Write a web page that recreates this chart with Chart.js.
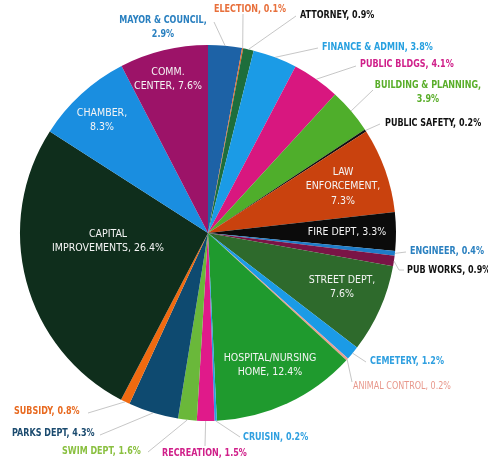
<!DOCTYPE html>
<html>
<head>
<meta charset="utf-8">
<script src="https://cdn.jsdelivr.net/npm/chart.js@4.4.1/dist/chart.umd.min.js"></script>
<style>
  html, body { margin: 0; padding: 0; background: #fff; }
  #wrap { width: 488px; height: 460px; }
</style>
</head>
<body>
<div id="wrap"><canvas id="myChart" width="488" height="460"></canvas></div>
<script>
// Budget shares by department, clockwise from 12 o'clock
const departments = [
  'MAYOR & COUNCIL', 'ELECTION', 'ATTORNEY', 'FINANCE & ADMIN', 'PUBLIC BLDGS',
  'BUILDING & PLANNING', 'PUBLIC SAFETY', 'LAW ENFORCEMENT', 'FIRE DEPT', 'ENGINEER',
  'PUB WORKS', 'STREET DEPT', 'CEMETERY', 'ANIMAL CONTROL', 'HOSPITAL/NURSING HOME',
  'CRUISIN', 'RECREATION', 'SWIM DEPT', 'PARKS DEPT', 'SUBSIDY',
  'CAPITAL IMPROVEMENTS', 'CHAMBER', 'COMM. CENTER'
];
const shares = [
  2.9, 0.1, 0.9, 3.8, 4.1,
  3.9, 0.2, 7.3, 3.3, 0.4,
  0.9, 7.6, 1.2, 0.2, 12.4,
  0.2, 1.5, 1.6, 4.3, 0.8,
  26.4, 8.3, 7.6
];

const sliceColors = [
  '#1d62a6', '#e8652a', '#1d6e3c', '#1b9be6', '#d8177f',
  '#4fae2b', '#111111', '#c9420e', '#0b0b0b', '#1e7cc8',
  '#7a1446', '#2e6a2c', '#1b9be6', '#eaa090', '#1f9a2e',
  '#27a0e0', '#e01a8a', '#6ab83a', '#0e4a70', '#f06a10',
  '#0f2e1c', '#1a8ee0', '#9c1368'
];

// label placement: inside labels (white) or outside labels with leader lines
const labelLayout = {
  0:  { words: [3, 1], x: 163, y: 20, align: 'center', color: '#2a80c0', path: [[214, 22]] },
  1:  { words: [2], x: 250, y: 9, align: 'center', color: '#e8703c', path: [[243, 14]] },
  2:  { words: [2], x: 300, y: 15, align: 'left', color: '#111', path: [[296, 16]] },
  3:  { words: [4], x: 322, y: 47, align: 'left', color: '#27a0e0', path: [[318, 48]] },
  4:  { words: [3], x: 360, y: 64, align: 'left', color: '#d0208a', path: [[356, 66]] },
  5:  { words: [3, 1], x: 428, y: 85, align: 'center', color: '#5aae2a', path: [[373, 90]] },
  6:  { words: [3], x: 385, y: 123, align: 'left', color: '#111', path: [[380, 124]] },
  7:  { words: [1, 1, 1], x: 343, y: 172, align: 'center', inside: true },
  8:  { words: [3], x: 347, y: 232, align: 'center', inside: true },
  9:  { words: [2], x: 410, y: 251, align: 'left', color: '#2a80c0', path: [[406, 252]] },
  10: { words: [3], x: 407, y: 270, align: 'left', color: '#111', path: [[399, 270], [404, 270]] },
  11: { words: [2, 1], x: 342, y: 280, align: 'center', inside: true },
  12: { words: [2], x: 370, y: 361, align: 'left', color: '#30a0e0', path: [[366, 362]] },
  13: { words: [3], x: 353, y: 386, align: 'left', color: '#e8988c', weight: 'normal', path: [[352, 382]] },
  14: { words: [1, 2], x: 270, y: 358, align: 'center', inside: true },
  15: { words: [2], x: 243, y: 437, align: 'left', color: '#30a0e0', path: [[240, 437]] },
  16: { words: [2], x: 162, y: 453, align: 'left', color: '#d0208a', path: [[205, 446]] },
  17: { words: [3], x: 62, y: 451, align: 'left', color: '#8ac040', path: [[148, 452]] },
  18: { words: [3], x: 12, y: 433, align: 'left', color: '#1a4a6e', path: [[100, 435]] },
  19: { words: [2], x: 14, y: 411, align: 'left', color: '#e86a20', path: [[88, 413]] },
  20: { words: [1, 2], x: 108, y: 234, align: 'center', inside: true },
  21: { words: [1, 1], x: 102, y: 113, align: 'center', inside: true },
  22: { words: [1, 2], x: 168, y: 72, align: 'center', inside: true }
};

const FONT_FAMILY = '"Liberation Sans Narrow", "DejaVu Sans Condensed", "Roboto", sans-serif';
const OUTSIDE_SQUEEZE = 0.85;   // horizontal squeeze to mimic a condensed bold face

function splitLines(text, counts) {
  const words = text.split(' ');
  const lines = [];
  let k = 0;
  counts.forEach(function(n) {
    lines.push(words.slice(k, k + n).join(' '));
    k += n;
  });
  if (k < words.length) lines[lines.length - 1] += ' ' + words.slice(k).join(' ');
  return lines;
}

const sliceLabels = {
  id: 'sliceLabels',
  afterDraw: function(chart) {
    const ctx = chart.ctx;
    const meta = chart.getDatasetMeta(0);
    ctx.save();
    meta.data.forEach(function(arc, i) {
      const lay = labelLayout[i];
      if (!lay) return;
      const p = arc.getProps(['x', 'y', 'startAngle', 'endAngle', 'outerRadius'], true);
      const mid = (p.startAngle + p.endAngle) / 2;
      const text = departments[i] + ', ' + shares[i].toFixed(1) + '%';
      const lines = splitLines(text, lay.words);

      if (!lay.inside) {
        ctx.strokeStyle = '#b8b8b8';
        ctx.lineWidth = 0.8;
        ctx.beginPath();
        ctx.moveTo(p.x + Math.cos(mid) * p.outerRadius, p.y + Math.sin(mid) * p.outerRadius);
        lay.path.forEach(function(pt) { ctx.lineTo(pt[0], pt[1]); });
        ctx.stroke();
      }

      ctx.textAlign = lay.align;
      ctx.textBaseline = 'middle';
      let squeeze = 1;
      if (lay.inside) {
        ctx.fillStyle = '#f4f4f4';
        ctx.font = 'normal 10.5px ' + FONT_FAMILY;
      } else {
        ctx.fillStyle = lay.color;
        ctx.font = (lay.weight || 'bold') + ' 10.5px ' + FONT_FAMILY;
        squeeze = OUTSIDE_SQUEEZE;
      }
      const lh = lay.inside ? 14.5 : 14;
      lines.forEach(function(line, j) {
        ctx.save();
        ctx.translate(lay.x, lay.y + j * lh);
        ctx.scale(squeeze, 1);
        ctx.fillText(line, 0, 0);
        ctx.restore();
      });
    });
    ctx.restore();
  }
};

const config = {
  type: 'pie',
  data: {
    labels: departments,
    datasets: [{
      data: shares,
      backgroundColor: sliceColors,
      borderWidth: 0
    }]
  },
  options: {
    responsive: false,
    animation: false,
    layout: { padding: { left: 20, top: 45, right: 92, bottom: 39 } },
    plugins: {
      legend: { display: false },
      tooltip: { enabled: false }
    }
  },
  plugins: [sliceLabels]
};

window.onload = function() {
  const ctx = document.getElementById('myChart').getContext('2d');
  new Chart(ctx, config);
};
</script>
</body>
</html>
